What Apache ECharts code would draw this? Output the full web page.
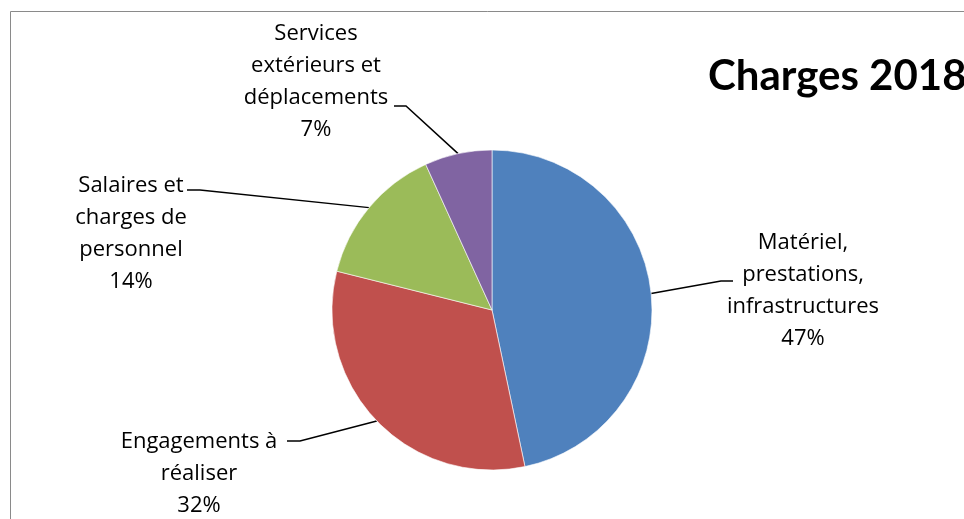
<!DOCTYPE html>
<html><head><meta charset="utf-8">
<script src="https://cdn.jsdelivr.net/npm/echarts@6/dist/echarts.min.js"></script>
<style>html,body{margin:0;padding:0;background:#fff}#c{width:964px;height:519px}</style>
</head><body><div id="c"></div>
<script>
const categories = ["Matériel,\nprestations,\ninfrastructures", "Engagements à\nréaliser", "Salaires et\ncharges de\npersonnel", "Services\nextérieurs et\ndéplacements"];
const values = [46.7, 32.2, 14.3, 6.8];
const colors = ["#4F81BD", "#C0504D", "#9BBB59", "#8064A2"];
const titleText = "Charges 2018";

// label placement (layout only)
const labelPlace = [
  {x: 803, y: 291, elbow: [721, 281], end: [733, 281]},
  {x: 199, y: 474, elbow: [300, 441], end: [287, 441]},
  {x: 131, y: 234, elbow: [200, 190], end: [187, 190]},
  {x: 316, y: 82,  elbow: [406, 106], end: [394, 106]}
];

const chart = echarts.init(document.getElementById('c'));
chart.setOption({
  animation: false,
  title: {text: titleText, left: 703, top: 50, textStyle: {fontFamily: 'Lato', fontSize: 42, fontWeight: 'bold', color: '#000'}},
  graphic: [{type: 'rect', shape: {x: 10.5, y: 11.5, width: 1200, height: 800}, style: {fill: 'none', stroke: '#8a8a8a', lineWidth: 1}, silent: true}],
  series: [{
    type: 'pie',
    center: [492, 310],
    radius: 160,
    startAngle: 90,
    clockwise: true,
    data: categories.map((c, i) => ({name: c, value: values[i], itemStyle: {color: colors[i]}})),
    itemStyle: {borderColor: '#ffffff', borderWidth: 0.6},
    label: {
      show: true,
      formatter: p => p.name + '\n' + Math.round(p.percent) + '%',
      fontFamily: 'Open Sans', fontSize: 22, lineHeight: 32, color: '#000', align: 'center'
    },
    labelLine: {show: true, lineStyle: {color: '#000', width: 1.5}},
    labelLayout: function (params) {
      const lp = labelPlace[params.dataIndex];
      const p0 = params.labelLinePoints ? params.labelLinePoints[0] : null;
      const out = {x: lp.x, y: lp.y, align: 'center', verticalAlign: 'middle'};
      if (p0) out.labelLinePoints = [p0, lp.elbow, lp.end];
      return out;
    }
  }]
});
</script></body></html>
